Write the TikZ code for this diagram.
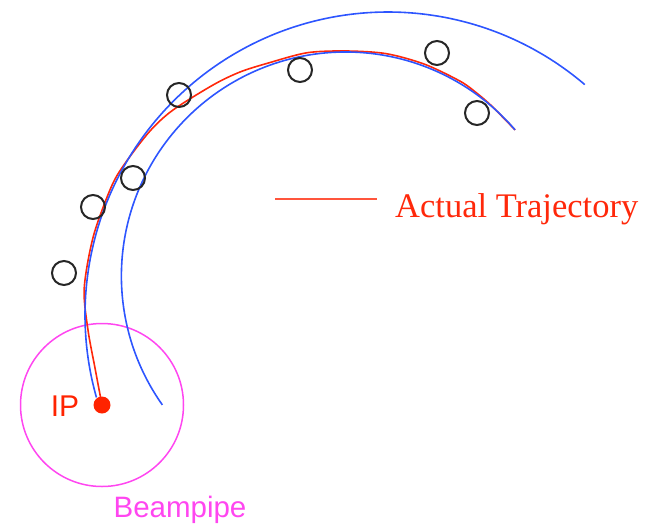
\documentclass[tikz,border=0pt]{standalone}
\usepackage{fontspec}
\setmainfont{Liberation Serif}
\newfontfamily\helv{Liberation Sans}
\definecolor{trkblue}{RGB}{45,85,255}
\definecolor{trkred}{RGB}{255,40,10}
\definecolor{legred}{RGB}{255,85,60}
\definecolor{pipemag}{RGB}{255,70,240}
\definecolor{ipred}{RGB}{255,35,0}
\begin{document}
\begin{tikzpicture}[x=1pt,y=-1pt,
  declare function={rin(\a)=226.5-2.5*((\a-232)/87)^2;},
  bluetrk/.style={draw=trkblue,line width=1.6pt},
  redtrk/.style={draw=trkred,line width=1.6pt},
  hit/.style={circle,draw=black!85,line width=2pt,minimum size=24pt,inner sep=0pt},
  lbl/.style={inner sep=0pt}]
\useasboundingbox (0,0) rectangle (650,523);
% beampipe
\node[circle,draw=pipemag,line width=1.5pt,minimum size=163pt,inner sep=0pt] (pipe) at (102,405) {};
% red actual trajectory
\draw[redtrk] plot[smooth,tension=0.5] coordinates {(102,405) (95,368) (88,330) (84.2,288.4) (93.4,236.1) (111.6,186.1) (126,162) (150,131) (173,110) (213,85) (240,72) (268.7,62.9) (307.3,52.7) (347,51) (386.5,53.7) (424.8,64.3) (460.5,81.4) (476.6,93) (491.5,105.8) (515.1,129.9)};
% outer blue
\draw[bluetrk] plot[domain=164.2:310.5,samples=120,smooth] ({388+303*cos(\x)},{315+303*sin(\x)});
% inner blue
\draw[bluetrk] plot[domain=145.5:318.6,samples=120,smooth] ({347+rin(\x)*cos(\x)},{278+rin(\x)*sin(\x)});
% hits
\node[hit] (h1) at (64,273) {};
\node[hit] (h2) at (93,207) {};
\node[hit] (h3) at (133,178) {};
\node[hit] (h4) at (179,95) {};
\node[hit] (h5) at (300,70) {};
\node[hit] (h6) at (437,53) {};
\node[hit] (h7) at (477,113) {};
% IP
\node[circle,fill=ipred,minimum size=17pt,inner sep=0pt] (ip) at (102,405) {};
\node[lbl,anchor=base,text=ipred,font=\helv\fontsize{30pt}{30pt}\selectfont] (iplbl) at (65,416) {IP};
\node[lbl,anchor=base,text=pipemag,font=\helv\fontsize{29.5pt}{29.5pt}\selectfont] (pipelbl) at (180,517) {Beampipe};
% legend
\coordinate (la) at (275,199);
\coordinate (lb) at (377,199);
\draw[draw=legred,line width=1.5pt] (la) -- (lb);
\node[lbl,anchor=base west,text=trkred,font=\fontsize{34.5pt}{34.5pt}\selectfont] (leg) at (395,217) {Actual Trajectory};
\end{tikzpicture}
\end{document}
